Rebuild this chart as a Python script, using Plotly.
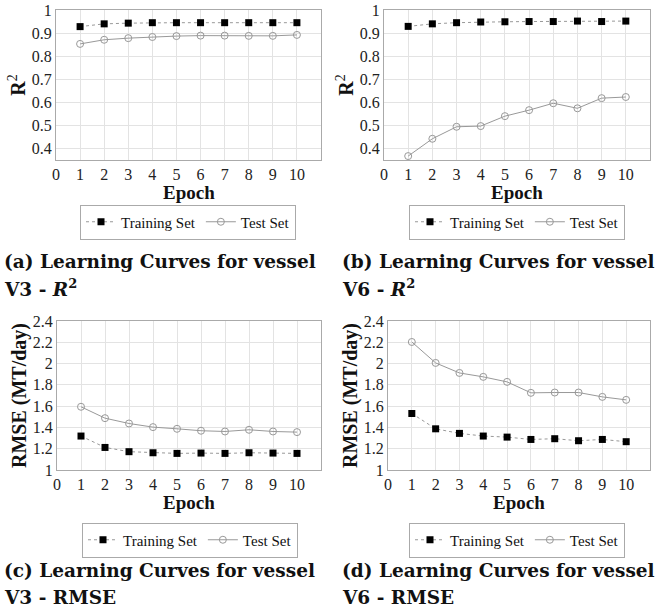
import plotly.graph_objects as go

epochs = [1, 2, 3, 4, 5, 6, 7, 8, 9, 10]

# (a) vessel V3 - R^2
v3_r2_train = [0.928, 0.940, 0.943, 0.945, 0.945, 0.945, 0.945, 0.945, 0.945, 0.945]
v3_r2_test = [0.853, 0.871, 0.878, 0.883, 0.887, 0.889, 0.889, 0.888, 0.888, 0.892]
# (b) vessel V6 - R^2
v6_r2_train = [0.929, 0.940, 0.945, 0.948, 0.949, 0.950, 0.950, 0.952, 0.950, 0.952]
v6_r2_test = [0.367, 0.442, 0.494, 0.497, 0.540, 0.566, 0.596, 0.574, 0.618, 0.623]
# (c) vessel V3 - RMSE
v3_rmse_train = [1.319, 1.212, 1.172, 1.162, 1.156, 1.159, 1.156, 1.162, 1.159, 1.156]
v3_rmse_test = [1.594, 1.487, 1.437, 1.403, 1.387, 1.369, 1.362, 1.378, 1.362, 1.356]
# (d) vessel V6 - RMSE
v6_rmse_train = [1.531, 1.387, 1.344, 1.319, 1.309, 1.287, 1.294, 1.275, 1.287, 1.266]
v6_rmse_test = [2.203, 2.006, 1.912, 1.875, 1.828, 1.725, 1.728, 1.728, 1.687, 1.659]

series_names = ["Training Set", "Test Set"]
x_ticks = [0, 1, 2, 3, 4, 5, 6, 7, 8, 9, 10]
r2_ticks = [0.4, 0.5, 0.6, 0.7, 0.8, 0.9, 1.0]
r2_labels = ["0.4", "0.5", "0.6", "0.7", "0.8", "0.9", "1"]
rmse_ticks = [1.0, 1.2, 1.4, 1.6, 1.8, 2.0, 2.2, 2.4]
rmse_labels = ["1", "1.2", "1.4", "1.6", "1.8", "2", "2.2", "2.4"]
x_title = "Epoch"

captions = [
    ("(a) Learning Curves for vessel", "V3 - <i>R</i><sup>2</sup>"),
    ("(b) Learning Curves for vessel", "V6 - <i>R</i><sup>2</sup>"),
    ("(c) Learning Curves for vessel", "V3 - RMSE"),
    ("(d) Learning Curves for vessel", "V6 - RMSE"),
]

W, H = 662, 612
SERIF = "Liberation Serif, Times New Roman, serif"
TICK_FONT = dict(family=SERIF, size=16, color="#222")
TITLE_FONT = dict(family=SERIF, size=20, color="#111")
XTITLE_FONT = dict(family=SERIF, size=19, color="#111")

panels = [
    dict(train=v3_r2_train, test=v3_r2_test, xpx=(56, 321), ypx=(10, 160),
         yt=(r2_ticks, r2_labels), ytitle="<b>R</b><sup>2</sup>", yr=[0.35, 1.0],
         leg=(188, 222), cap=(2, 261, 288), xt=192),
    dict(train=v6_r2_train, test=v6_r2_test, xpx=(384, 650), ypx=(10, 160),
         yt=(r2_ticks, r2_labels), ytitle="<b>R</b><sup>2</sup>", yr=[0.35, 1.0],
         leg=(517, 222), cap=(340, 261, 288), xt=192),
    dict(train=v3_rmse_train, test=v3_rmse_test, xpx=(57, 321), ypx=(321, 470),
         yt=(rmse_ticks, rmse_labels), ytitle="<b>RMSE (MT/day)</b>", yr=[1.0, 2.4],
         leg=(190, 540), cap=(2, 570, 597), xt=502),
    dict(train=v6_rmse_train, test=v6_rmse_test, xpx=(388, 650), ypx=(321, 470),
         yt=(rmse_ticks, rmse_labels), ytitle="<b>RMSE (MT/day)</b>", yr=[1.0, 2.4],
         leg=(517, 540), cap=(340, 570, 597), xt=502),
]

fig = go.Figure()
layout = dict(width=W, height=H, margin=dict(l=0, r=0, t=0, b=0),
              paper_bgcolor="white", plot_bgcolor="white", annotations=[])

for i, p in enumerate(panels):
    n = "" if i == 0 else str(i + 1)
    leg = "legend" + n
    fig.add_trace(go.Scatter(
        x=epochs, y=p["train"], name=series_names[0], mode="lines+markers",
        line=dict(color="#999", width=1, dash="dot"),
        marker=dict(symbol="square", size=7, color="black"),
        xaxis="x" + n, yaxis="y" + n, legend=leg))
    fig.add_trace(go.Scatter(
        x=epochs, y=p["test"], name=series_names[1], mode="lines+markers",
        line=dict(color="#999", width=1),
        marker=dict(symbol="circle-open", size=7, color="#999", line=dict(width=1)),
        xaxis="x" + n, yaxis="y" + n, legend=leg))

    x0, x1 = p["xpx"]
    yt, yb = p["ypx"]
    axstyle = dict(showline=True, linecolor="#aaa", linewidth=1, mirror=True,
                   showgrid=True, gridcolor="#e3e3e3", gridwidth=1, zeroline=False,
                   ticks="", ticklen=0, tickfont=TICK_FONT, automargin=False)
    layout["xaxis" + n] = dict(
        domain=[x0 / W, x1 / W], anchor="y" + n, range=[0, 11],
        tickvals=x_ticks, **axstyle)
    layout["yaxis" + n] = dict(
        domain=[1 - yb / H, 1 - yt / H], anchor="x" + n, range=p["yr"],
        tickvals=p["yt"][0], ticktext=p["yt"][1],
        title=dict(text=p["ytitle"], font=TITLE_FONT, standoff=0),
        **axstyle)
    # x-axis title placed just below the tick labels
    layout["annotations"].append(dict(
        text="<b>" + x_title + "</b>", x=(x0 + (5.5 / 11) * (x1 - x0)) / W, y=1 - p["xt"] / H,
        xref="paper", yref="paper", xanchor="center", yanchor="middle",
        showarrow=False, font=XTITLE_FONT))
    lx, ly = p["leg"]
    layout[leg] = dict(
        orientation="h", x=lx / W, y=1 - ly / H, xanchor="center", yanchor="middle",
        xref="paper", yref="paper", bordercolor="#aaa", borderwidth=1,
        font=dict(family=SERIF, size=15, color="#111"),
        itemwidth=30, tracegroupgap=0, bgcolor="white")
    cx, c1, c2 = p["cap"]
    for txt, cy in zip(captions[i], (c1, c2)):
        layout["annotations"].append(dict(
            text="<b>" + txt + "</b>", x=cx / W, y=1 - cy / H, xref="paper", yref="paper",
            xanchor="left", yanchor="middle", showarrow=False,
            font=dict(family="DejaVu Serif", size=18.5, color="#111")))

fig.update_layout(**layout)
fig.write_html("out.html")
